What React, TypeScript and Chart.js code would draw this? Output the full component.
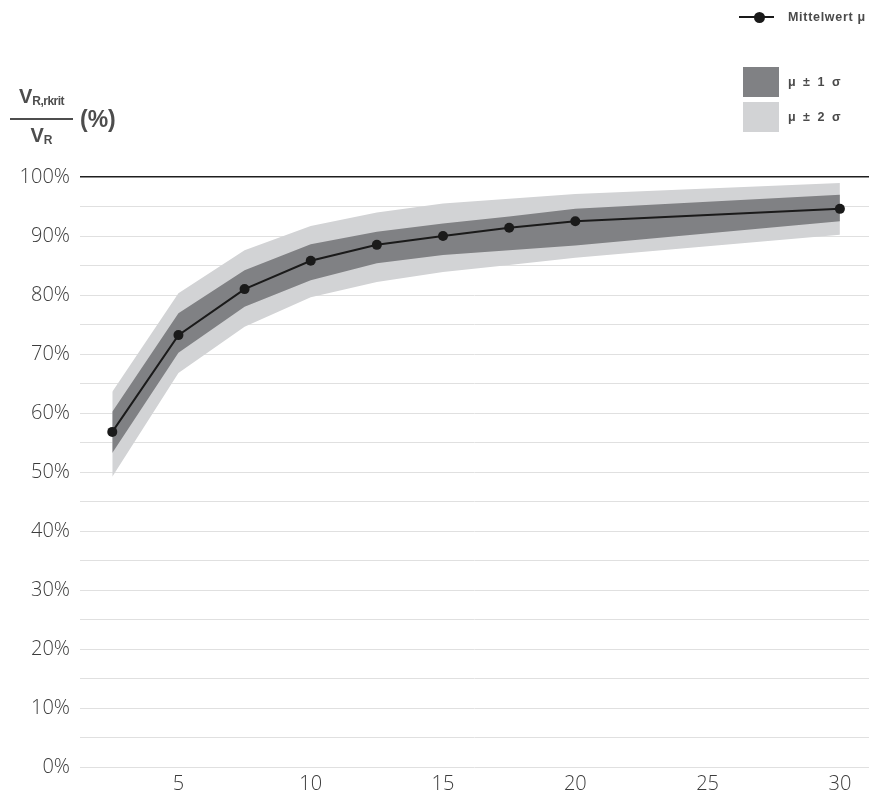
import React, { useEffect, useRef } from "react";
import { Chart, registerables } from "chart.js";

Chart.register(...registerables);

const xValues = [2.5, 5, 7.5, 10, 12.5, 15, 17.5, 20, 30];
const meanValues = [56.8, 73.2, 81.0, 85.8, 88.5, 90.0, 91.4, 92.5, 94.6];
const sigma1Upper = [60.2, 76.9, 84.2, 88.6, 90.7, 92.1, 93.3, 94.6, 97.0];
const sigma1Lower = [53.2, 70.2, 78.0, 82.5, 85.4, 86.8, 87.6, 88.4, 92.5];
const sigma2Upper = [63.6, 80.3, 87.6, 91.7, 94.0, 95.5, 96.3, 97.1, 99.0];
const sigma2Lower = [49.2, 66.8, 74.6, 79.6, 82.2, 83.9, 85.1, 86.3, 90.2];
const xTickValues = [5, 10, 15, 20, 25, 30];

const legendMean = "Mittelwert μ";
const legendSigma1 = "μ ± 1 σ";
const legendSigma2 = "μ ± 2 σ";

const DARK = "#808184";
const LIGHT = "#d2d3d5";

const pts = (ys: number[]) => xValues.map((x, i) => ({ x, y: ys[i] }));

export default function App() {
  const ref = useRef<HTMLCanvasElement>(null);
  useEffect(() => {
    if (!ref.current) return;
    const tickFont = { family: "'Open Sans', sans-serif", size: 20, weight: 300 as any };
    const chart = new Chart(ref.current, {
      type: "line",
      data: {
        datasets: [
          {
            label: legendMean,
            data: pts(meanValues),
            borderColor: "#1a1a1a",
            backgroundColor: "#1a1a1a",
            borderWidth: 2,
            pointRadius: 5,
            pointBackgroundColor: "#1a1a1a",
            pointBorderWidth: 0,
            fill: false,
          },
          {
            label: legendSigma1,
            data: pts(sigma1Upper),
            borderWidth: 0,
            borderColor: DARK,
            backgroundColor: DARK,
            pointRadius: 0,
            fill: "+1",
          },
          {
            label: "s1low",
            data: pts(sigma1Lower),
            borderWidth: 0,
            borderColor: DARK,
            pointRadius: 0,
            fill: false,
          },
          {
            label: legendSigma2,
            data: pts(sigma2Upper),
            borderWidth: 0,
            borderColor: LIGHT,
            backgroundColor: LIGHT,
            pointRadius: 0,
            fill: "+1",
          },
          {
            label: "s2low",
            data: pts(sigma2Lower),
            borderWidth: 0,
            borderColor: LIGHT,
            pointRadius: 0,
            fill: false,
          },
        ],
      },
      options: {
        animation: false,
        responsive: false,
        devicePixelRatio: 1,
        layout: { autoPadding: false, padding: { top: 177, left: 0, right: 0, bottom: 0 } },
        plugins: { legend: { display: false }, tooltip: { enabled: false } },
        scales: {
          x: {
            type: "linear",
            min: 1.28,
            max: 31.1,
            grid: { display: false },
            border: { display: false },
            afterBuildTicks: (scale: any) => {
              scale.ticks = xTickValues.map((v) => ({ value: v }));
            },
            afterFit: (scale: any) => {
              scale.height = 24;
              scale.paddingRight = 0;
              scale.paddingLeft = 0;
            },
            ticks: {
              font: tickFont,
              color: "#3c3c3c",
              padding: -3,
              maxRotation: 0,
              autoSkip: false,
              callback: (v: any) => String(v),
            },
          },
          y: {
            min: 0,
            max: 100,
            border: { display: false },
            afterFit: (scale: any) => {
              scale.width = 80;
            },
            grid: {
              drawTicks: false,
              color: (ctx: any) => (ctx.tick && ctx.tick.value === 100 ? "#1e1e1e" : "#e0e0e0"),
              lineWidth: (ctx: any) => (ctx.tick && ctx.tick.value === 100 ? 1.6 : 1),
            },
            ticks: {
              stepSize: 5,
              font: tickFont,
              color: "#3c3c3c",
              padding: 10,
              autoSkip: false,
              callback: (v: any) => (Number(v) % 10 === 0 ? v + "%" : ""),
            },
          },
        },
      },
    });
    return () => chart.destroy();
  }, []);

  const legendText: React.CSSProperties = {
    position: "absolute",
    fontFamily: "'Liberation Sans', Arial, sans-serif",
    fontWeight: 700,
    fontSize: 12.5,
    color: "#4a4a4a",
    whiteSpace: "nowrap",
    lineHeight: "14px",
  };

  return (
    <div
      style={{
        position: "fixed",
        left: 0,
        top: 0,
        width: 869,
        height: 791,
        overflow: "hidden",
        background: "#fff",
      }}
    >
      <canvas ref={ref} width={869} height={791} style={{ position: "absolute", left: 0, top: 0 }} />
      {/* Axis title */}
      <div
        style={{
          position: "absolute",
          left: 10,
          top: 84,
          fontFamily: "'Liberation Sans', Arial, sans-serif",
          fontWeight: 700,
          color: "#4d4d4d",
          display: "flex",
          alignItems: "center",
        }}
      >
        <div style={{ display: "flex", flexDirection: "column", alignItems: "center" }}>
          <div style={{ fontSize: 20, lineHeight: "24px", whiteSpace: "nowrap" }}>
            V<sub style={{ fontSize: 12, verticalAlign: "-2px", letterSpacing: -0.5 }}>R,rkrit</sub>
          </div>
          <div style={{ width: 63, height: 2, background: "#4d4d4d", marginTop: 5, marginBottom: 4 }} />
          <div style={{ fontSize: 20, lineHeight: "22px", whiteSpace: "nowrap" }}>
            V<sub style={{ fontSize: 12, verticalAlign: "-2px" }}>R</sub>
          </div>
        </div>
        <div style={{ fontSize: 23, marginLeft: 7, marginTop: 4 }}>(%)</div>
      </div>
      {/* Legend */}
      <div style={{ position: "absolute", left: 739, top: 16, width: 35, height: 2, background: "#1a1a1a" }} />
      <div
        style={{
          position: "absolute",
          left: 754,
          top: 12,
          width: 11,
          height: 11,
          borderRadius: "50%",
          background: "#1a1a1a",
        }}
      />
      <div style={{ ...legendText, left: 788, top: 10, letterSpacing: 0.7 }}>{legendMean}</div>
      <div style={{ position: "absolute", left: 743, top: 67, width: 36, height: 30, background: DARK }} />
      <div style={{ position: "absolute", left: 743, top: 102, width: 36, height: 30, background: LIGHT }} />
      <div style={{ ...legendText, left: 788, top: 75, letterSpacing: 2 }}>{legendSigma1}</div>
      <div style={{ ...legendText, left: 788, top: 110, letterSpacing: 2 }}>{legendSigma2}</div>
    </div>
  );
}
